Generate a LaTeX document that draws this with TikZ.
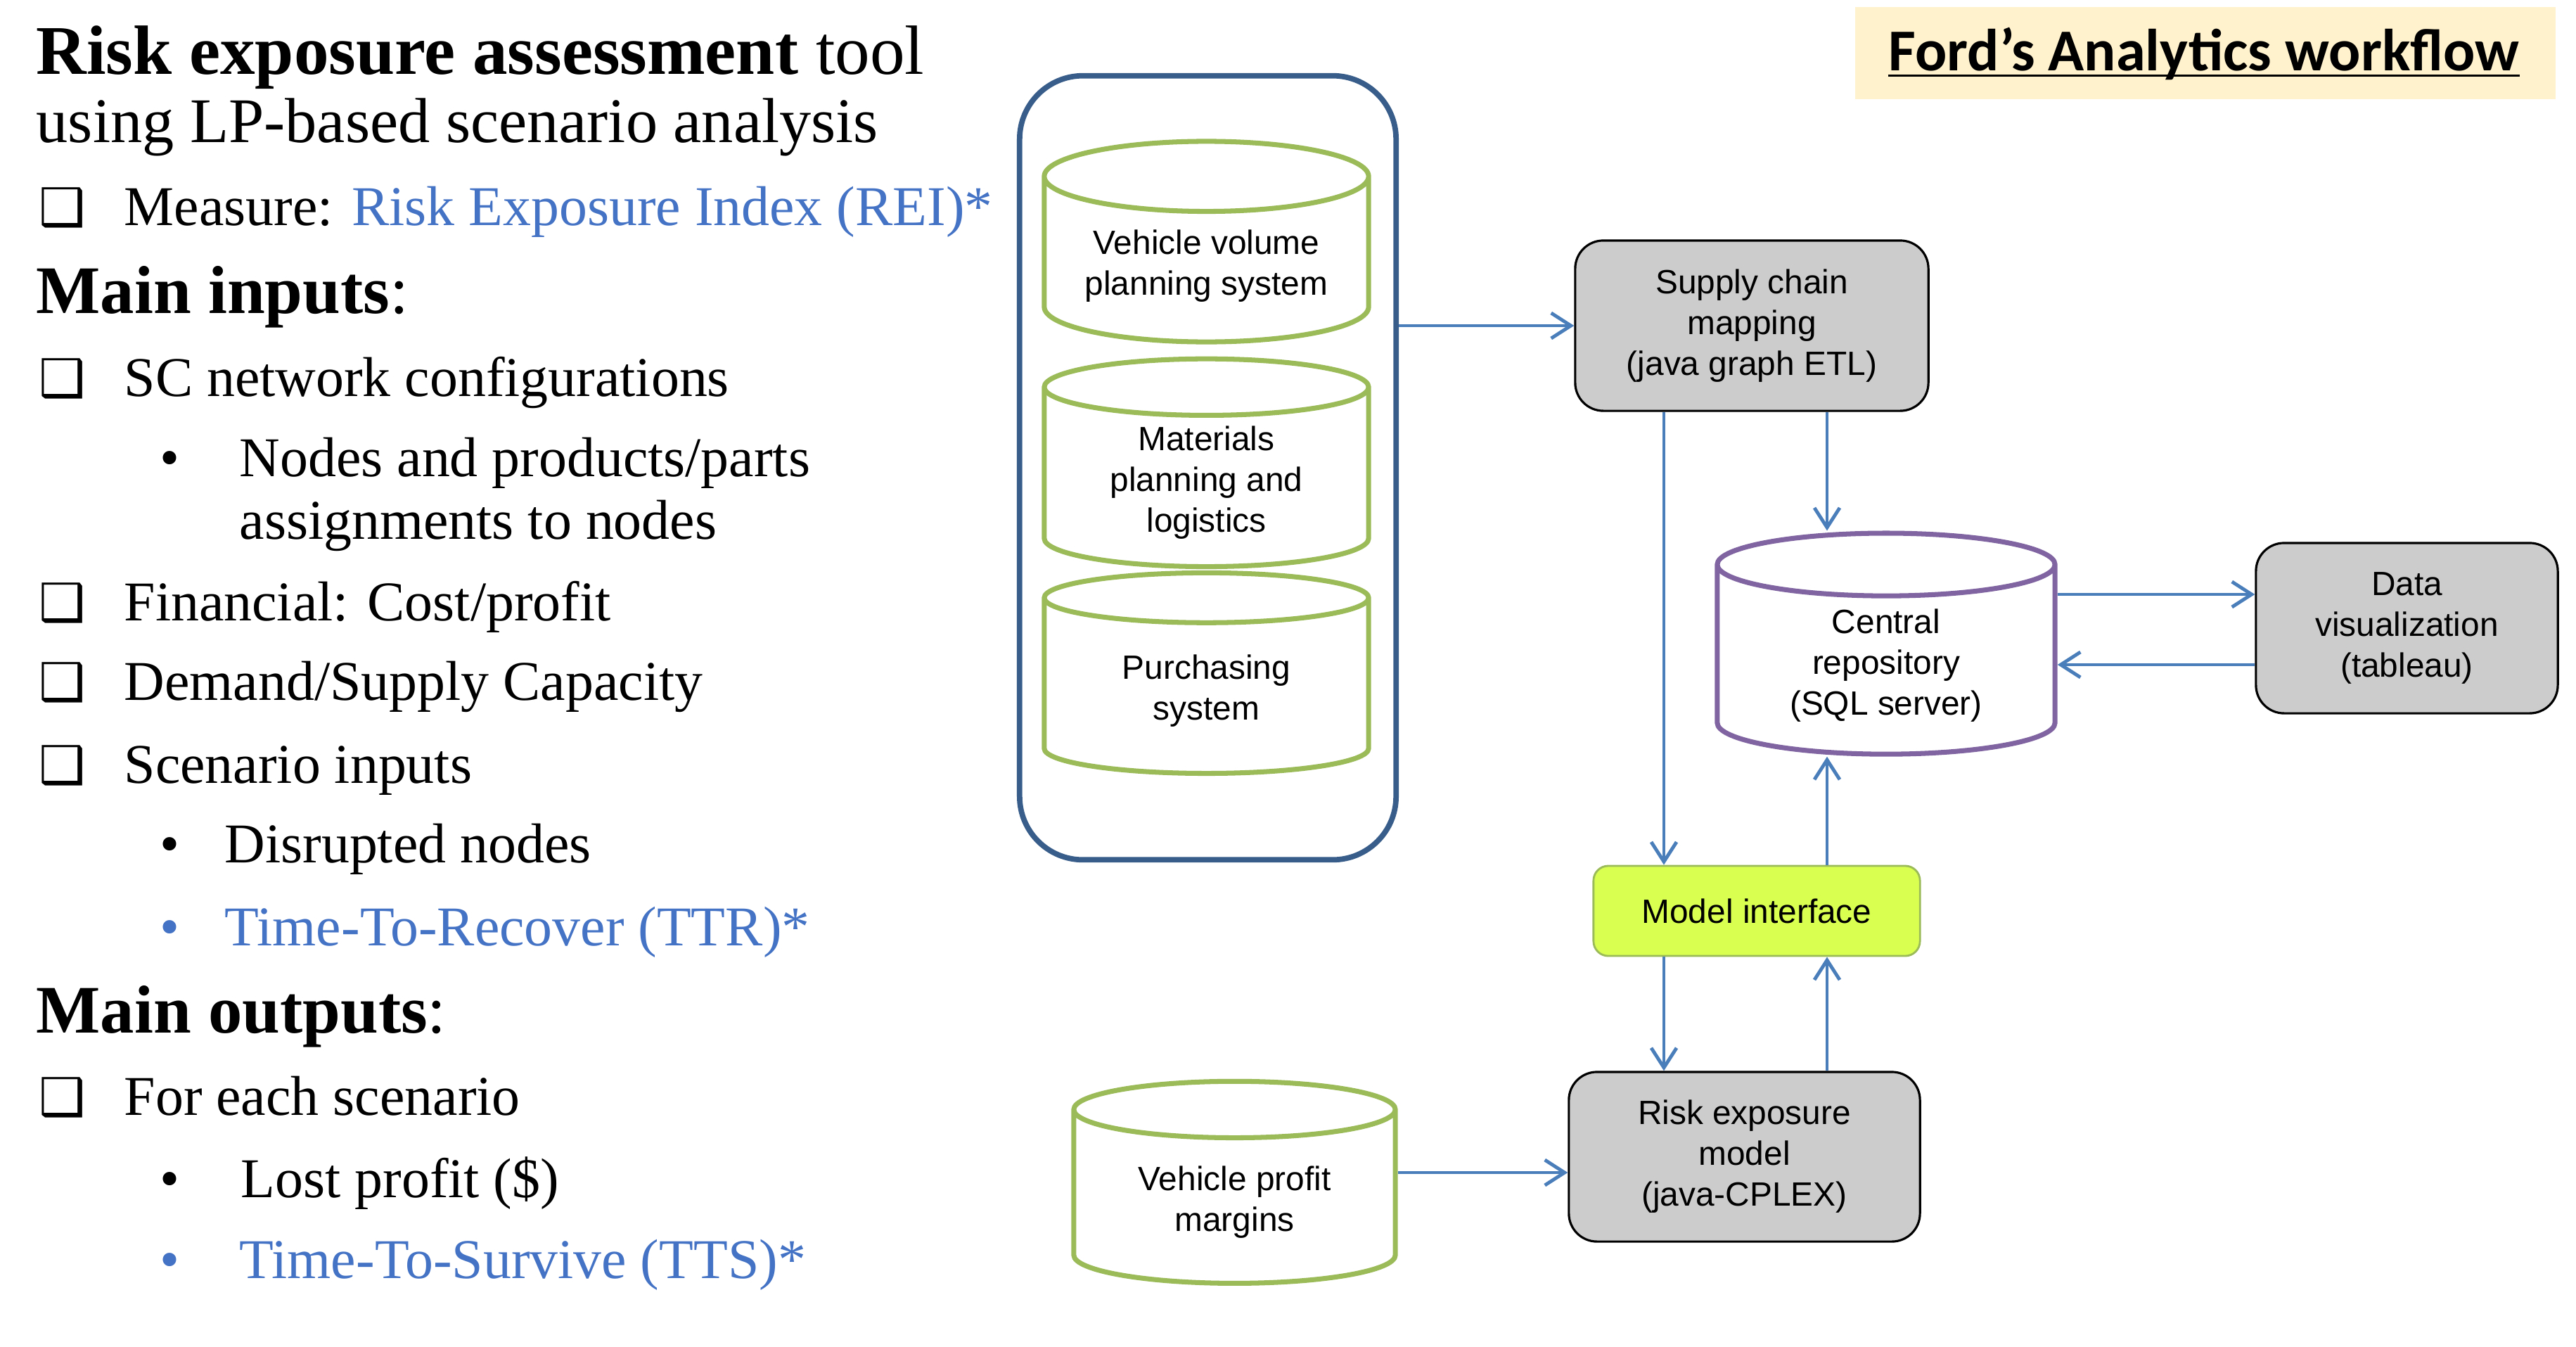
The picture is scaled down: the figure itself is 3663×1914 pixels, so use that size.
\documentclass[tikz,border=0pt]{standalone}
\usepackage{fontspec}
\setmainfont{Liberation Serif}
\newfontfamily\boxfont{Liberation Sans}
\newfontfamily\headfont{Carlito}
\newfontfamily\symfont{DejaVu Sans}
\usetikzlibrary{shapes.geometric,arrows.meta}
\definecolor{linkblue}{HTML}{4472C4}
\definecolor{flowblue}{HTML}{4A7EBB}
\definecolor{dbgreen}{HTML}{9BBB59}
\definecolor{dbpurple}{HTML}{8064A2}
\definecolor{frameblue}{HTML}{385D8A}
\definecolor{procgray}{HTML}{CCCCCC}
\definecolor{miface}{HTML}{D9FF50}
\definecolor{titlebg}{HTML}{FFF2CC}
\newcommand{\chkbox}{{\symfont\bfseries\fontsize{21}{21}\selectfont ❑}}

\begin{document}
\begin{tikzpicture}[x=0.01cm,y=-0.01cm,
  txt/.style={anchor=base west,inner sep=0pt},
  body/.style={txt,font=\fontsize{22.7}{25}\selectfont},
  head/.style={txt,font=\fontsize{27.5}{30}\selectfont},
  dbcyl/.style={cylinder,shape border rotate=90,aspect=0.27,draw=dbgreen,line width=2pt,fill=white,
    align=center,font=\boxfont\fontsize{13.6}{16.5}\selectfont,minimum width=4.61cm,minimum height=2.85cm},
  procbox/.style={rectangle,rounded corners=0.4cm,draw=black,line width=0.9pt,fill=procgray,
    align=center,font=\boxfont\fontsize{13.6}{16.5}\selectfont},
  flow/.style={draw=flowblue,line width=1.4pt,-{Straight Barb[length=0.28cm,width=0.36cm]}}]
\useasboundingbox (0,0) rectangle (3663,1914);

% left column: the text
\node[head,font=\fontsize{28.2}{30}\selectfont] (t1) at (51,105) {\textbf{Risk exposure assessment} tool};
\node[head,font=\fontsize{25.7}{30}\selectfont] (t2) at (51,202) {using LP-based scenario analysis};
\node[txt] (c1) at (55,320) {\chkbox};
\node[body] (l1) at (176,320) {Measure: \textcolor{linkblue}{Risk Exposure Index (REI)*}};
\node[head] (h1) at (51,445) {\textbf{Main inputs}:};
\node[txt] (c2) at (55,563) {\chkbox};
\node[body] (l2) at (176,563) {SC network configurations};
\node[body] (b1) at (227,677) {•};
\node[body] (l3) at (340,677) {Nodes and products/parts};
\node[body] (l4) at (340,766) {assignments to nodes};
\node[txt] (c3) at (55,882) {\chkbox};
\node[body] (l5) at (176,882) {Financial: Cost/profit};
\node[txt] (c4) at (55,995) {\chkbox};
\node[body] (l6) at (176,995) {Demand/Supply Capacity};
\node[txt] (c5) at (55,1113) {\chkbox};
\node[body] (l7) at (176,1113) {Scenario inputs};
\node[body] (b2) at (227,1226) {•};
\node[body] (l8) at (319,1226) {Disrupted nodes};
\node[body,linkblue] (b3) at (227,1344) {•};
\node[body,linkblue] (l9) at (319,1344) {Time-To-Recover (TTR)*};
\node[head] (h2) at (51,1468) {\textbf{Main outputs}:};
\node[txt] (c6) at (55,1585) {\chkbox};
\node[body] (l10) at (176,1585) {For each scenario};
\node[body] (b4) at (227,1702) {•};
\node[body] (l11) at (342,1702) {Lost profit (\$)};
\node[body,linkblue] (b5) at (227,1817) {•};
\node[body,linkblue] (l12) at (340,1817) {Time-To-Survive (TTS)*};

% right column: the workflow
\node[fill=titlebg,minimum width=9.96cm,minimum height=1.31cm] (wfbox) at (3136,75.5) {};
\node[txt,anchor=base,font=\headfont\bfseries\fontsize{24}{26}\selectfont] (wf) at (3134,100) {Ford’s Analytics workflow};
\draw[line width=0.85pt] ([yshift=-0.07cm]wf.base west) -- ([yshift=-0.07cm]wf.base east);

\node[draw=frameblue,line width=2.2pt,rounded corners=0.9cm,minimum width=5.35cm,minimum height=11.14cm] (srcsys) at (1717.5,665) {};
\node[dbcyl] (vvps) at (1715.5,378) {Vehicle volume\\planning system};
\node[dbcyl] (mpl) at (1715.5,686) {Materials\\planning and\\logistics};
\node[dbcyl] (purch) at (1715.5,982) {Purchasing\\system};
\node[dbcyl,minimum width=4.57cm,minimum height=2.87cm] (vpm) at (1755.5,1709) {Vehicle profit\\margins};
\node[dbcyl,draw=dbpurple,aspect=0.3,minimum width=4.8cm,minimum height=3.14cm] (central) at (2682,946) {Central\\repository\\(SQL server)};
\node[procbox,minimum width=5.02cm,minimum height=2.42cm] (scmap) at (2491,463) {Supply chain\\mapping\\(java graph ETL)};
\node[procbox,minimum width=4.29cm,minimum height=2.42cm] (viz) at (3422.5,893) {Data\\visualization\\(tableau)};
\node[procbox,minimum width=4.99cm,minimum height=2.41cm] (risk) at (2480.5,1644.5) {Risk exposure\\model\\(java-CPLEX)};
\node[procbox,draw=dbgreen,line width=0.8pt,fill=miface,rounded corners=0.21cm,minimum width=4.64cm,minimum height=1.28cm] (mi) at (2498,1295) {Model interface};

\coordinate (laneL) at (2366,0);
\coordinate (laneR) at (2598,0);
\coordinate (toviz) at (0,845);
\coordinate (fromviz) at (0,945);
\coordinate (torisk) at (0,1667);

\path[every edge/.style={flow}]
  (srcsys.east |- scmap.west) edge (scmap.west)
  (scmap.south -| laneL) edge (mi.north -| laneL)
  (scmap.south -| laneR) edge (central.north -| laneR)
  (mi.north -| laneR) edge (central.south -| laneR)
  (mi.south -| laneL) edge (risk.north -| laneL)
  (risk.north -| laneR) edge (mi.south -| laneR)
  (central.east |- toviz) edge (viz.west |- toviz)
  (viz.west |- fromviz) edge (central.east |- fromviz)
  (vpm.east |- torisk) edge (risk.west |- torisk)
;
\end{tikzpicture}
\end{document}
